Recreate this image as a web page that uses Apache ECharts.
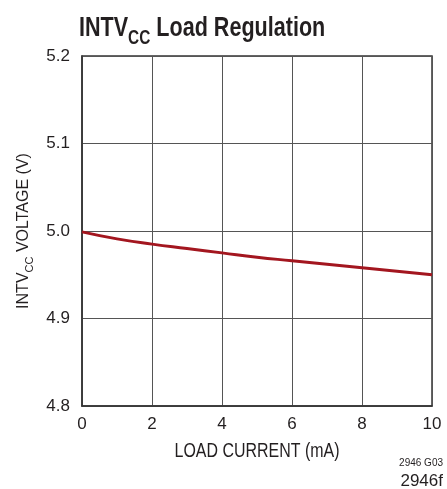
<!DOCTYPE html>
<html><head><meta charset="utf-8">
<script src="https://cdn.jsdelivr.net/npm/echarts@6/dist/echarts.min.js"></script>
<style>html,body{margin:0;padding:0;background:#fff}#c{width:447px;height:489px}</style>
</head><body><div id="c"></div>
<script>
const loadCurrent = [0, 1, 2, 3, 4, 5, 6, 7, 8, 9, 10];
const voltage = [4.999, 4.991, 4.985, 4.980, 4.975, 4.970, 4.966, 4.962, 4.958, 4.954, 4.950];
const xTicks = [0, 2, 4, 6, 8, 10];
const yTicks = [4.8, 4.9, 5.0, 5.1, 5.2];

const FONT = '"Liberation Sans", Arial, sans-serif';
const INK = '#231f20';
const chart = echarts.init(document.getElementById('c'), null, {renderer: 'canvas'});
chart.setOption({
  animation: false,
  backgroundColor: '#fff',
  grid: {left: 82, right: 15, top: 56, bottom: 83, show: true, borderColor: '#333', borderWidth: 1.5},
  xAxis: {
    type: 'value', min: 0, max: 10, interval: 2,
    axisLine: {show: true, lineStyle: {color: '#333', width: 1.5}},
    axisTick: {show: false},
    axisLabel: {fontFamily: FONT, fontSize: 17, color: INK, margin: 10,
      formatter: v => xTicks.includes(v) ? String(v) : ''},
    splitLine: {show: true, lineStyle: {color: '#555', width: 1}}
  },
  yAxis: {
    type: 'value', min: 4.8, max: 5.2, interval: 0.1,
    name: '{n|INTV}{s|CC}{n| VOLTAGE (V)}', nameLocation: 'middle', nameGap: 50, nameRotate: 90,
    nameTextStyle: {
      rich: {
        n: {fontFamily: FONT, fontSize: 16, color: INK, verticalAlign: 'bottom', lineHeight: 20},
        s: {fontFamily: FONT, fontSize: 11, color: INK, verticalAlign: 'bottom', lineHeight: 20, padding: [0, 0, -4, 0]}
      }
    },
    axisLine: {show: true, lineStyle: {color: '#333', width: 1.5}},
    axisTick: {show: false},
    axisLabel: {fontFamily: FONT, fontSize: 17, color: INK, margin: 12,
      formatter: v => { const t = yTicks.find(y => Math.abs(y - v) < 1e-6); return t !== undefined ? t.toFixed(1) : ''; }},
    splitLine: {show: true, lineStyle: {color: '#555', width: 1}}
  },
  graphic: [
    {type: 'text', x: 79, y: 10, scaleX: 0.77, scaleY: 1,
      style: {
        text: '{b|INTV}{s|CC}{b| Load Regulation}',
        rich: {
          b: {fontFamily: FONT, fontWeight: 'bold', fontSize: 28, fill: INK, verticalAlign: 'bottom', lineHeight: 32},
          s: {fontFamily: FONT, fontWeight: 'bold', fontSize: 20, fill: INK, verticalAlign: 'bottom', lineHeight: 32, padding: [0, 0, -6, 0]}
        }
      }},
    {type: 'text', x: 257, y: 451, scaleX: 0.76, scaleY: 1,
      style: {text: 'LOAD CURRENT (mA)', font: '21px ' + FONT, fill: INK, align: 'center', verticalAlign: 'middle'}},
    {type: 'text', right: 4, top: 458, style: {text: '2946 G03', font: '10px ' + FONT, fill: INK}},
    {type: 'text', right: 4, top: 473, style: {text: '2946f', font: '17px ' + FONT, fill: INK}}
  ],
  series: [{
    type: 'line', smooth: true, showSymbol: false,
    data: loadCurrent.map((x, i) => [x, voltage[i]]),
    lineStyle: {color: '#a3161f', width: 3}
  }]
});
</script></body></html>
